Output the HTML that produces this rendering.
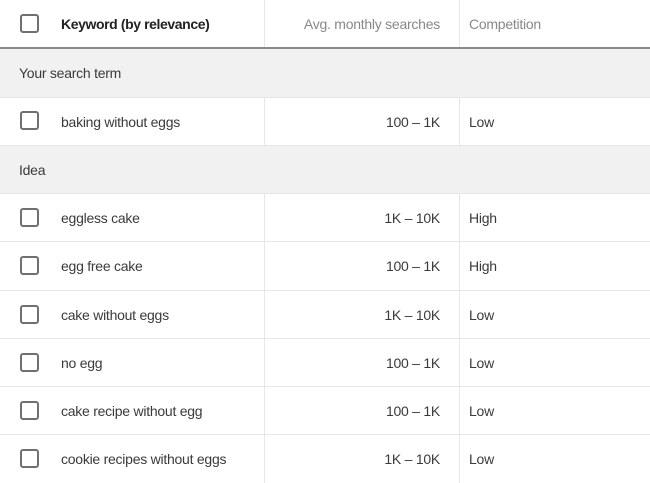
<!DOCTYPE html><html><head><style>
body{margin:0;width:650px;height:481px;overflow:hidden;background:#fff;font-family:"Liberation Sans",sans-serif;font-size:14px;letter-spacing:-0.25px;color:#3a3a3a;position:relative}
.r{position:absolute;left:0;width:650px;border-bottom:1px solid #e6e6e6;box-sizing:border-box}
.g{background:#f1f1f1}
.cb{position:absolute;left:20px;width:15px;height:15px;border:2px solid #707070;border-radius:3px}
.t{position:absolute;left:61px}
.n{position:absolute;right:210px}
.c{position:absolute;left:469px}
.v1,.v2{position:absolute;top:0;bottom:0;width:1px;background:#e6e6e6}
.v1{left:264px}.v2{left:459px}
</style></head><body>
<div class="r" style="top:0;height:49px;border-bottom:2px solid #8a8a8a">
<div class="v1"></div><div class="v2"></div>
<div class="cb" style="top:14px"></div>
<div class="t" style="top:16px;font-weight:bold;color:#222;letter-spacing:-0.4px">Keyword (by relevance)</div>
<div class="n" style="top:16px;color:#888">Avg. monthly searches</div>
<div class="c" style="top:16px;color:#888">Competition</div>
</div>
<div class="r g" style="top:49px;height:49px"><div style="position:absolute;left:19px;top:16px">Your search term</div></div>
<div class="r" style="top:98px;height:48px"><div class="v1"></div><div class="v2"></div><div class="cb" style="top:13px"></div><div class="t" style="top:16px">baking without eggs</div><div class="n" style="top:16px">100 – 1K</div><div class="c" style="top:16px">Low</div></div>
<div class="r g" style="top:146px;height:48px"><div style="position:absolute;left:19px;top:16px">Idea</div></div>
<div class="r" style="top:194px;height:48px"><div class="v1"></div><div class="v2"></div><div class="cb" style="top:14px"></div><div class="t" style="top:16px">eggless cake</div><div class="n" style="top:16px">1K – 10K</div><div class="c" style="top:16px">High</div></div>
<div class="r" style="top:242px;height:49px"><div class="v1"></div><div class="v2"></div><div class="cb" style="top:14px"></div><div class="t" style="top:16px">egg free cake</div><div class="n" style="top:16px">100 – 1K</div><div class="c" style="top:16px">High</div></div>
<div class="r" style="top:291px;height:48px"><div class="v1"></div><div class="v2"></div><div class="cb" style="top:14px"></div><div class="t" style="top:16px">cake without eggs</div><div class="n" style="top:16px">1K – 10K</div><div class="c" style="top:16px">Low</div></div>
<div class="r" style="top:339px;height:48px"><div class="v1"></div><div class="v2"></div><div class="cb" style="top:14px"></div><div class="t" style="top:16px">no egg</div><div class="n" style="top:16px">100 – 1K</div><div class="c" style="top:16px">Low</div></div>
<div class="r" style="top:387px;height:48px"><div class="v1"></div><div class="v2"></div><div class="cb" style="top:14px"></div><div class="t" style="top:16px">cake recipe without egg</div><div class="n" style="top:16px">100 – 1K</div><div class="c" style="top:16px">Low</div></div>
<div class="r" style="top:435px;height:48px;border-bottom:none"><div class="v1"></div><div class="v2"></div><div class="cb" style="top:14px"></div><div class="t" style="top:16px">cookie recipes without eggs</div><div class="n" style="top:16px">1K – 10K</div><div class="c" style="top:16px">Low</div></div>
</body></html>
